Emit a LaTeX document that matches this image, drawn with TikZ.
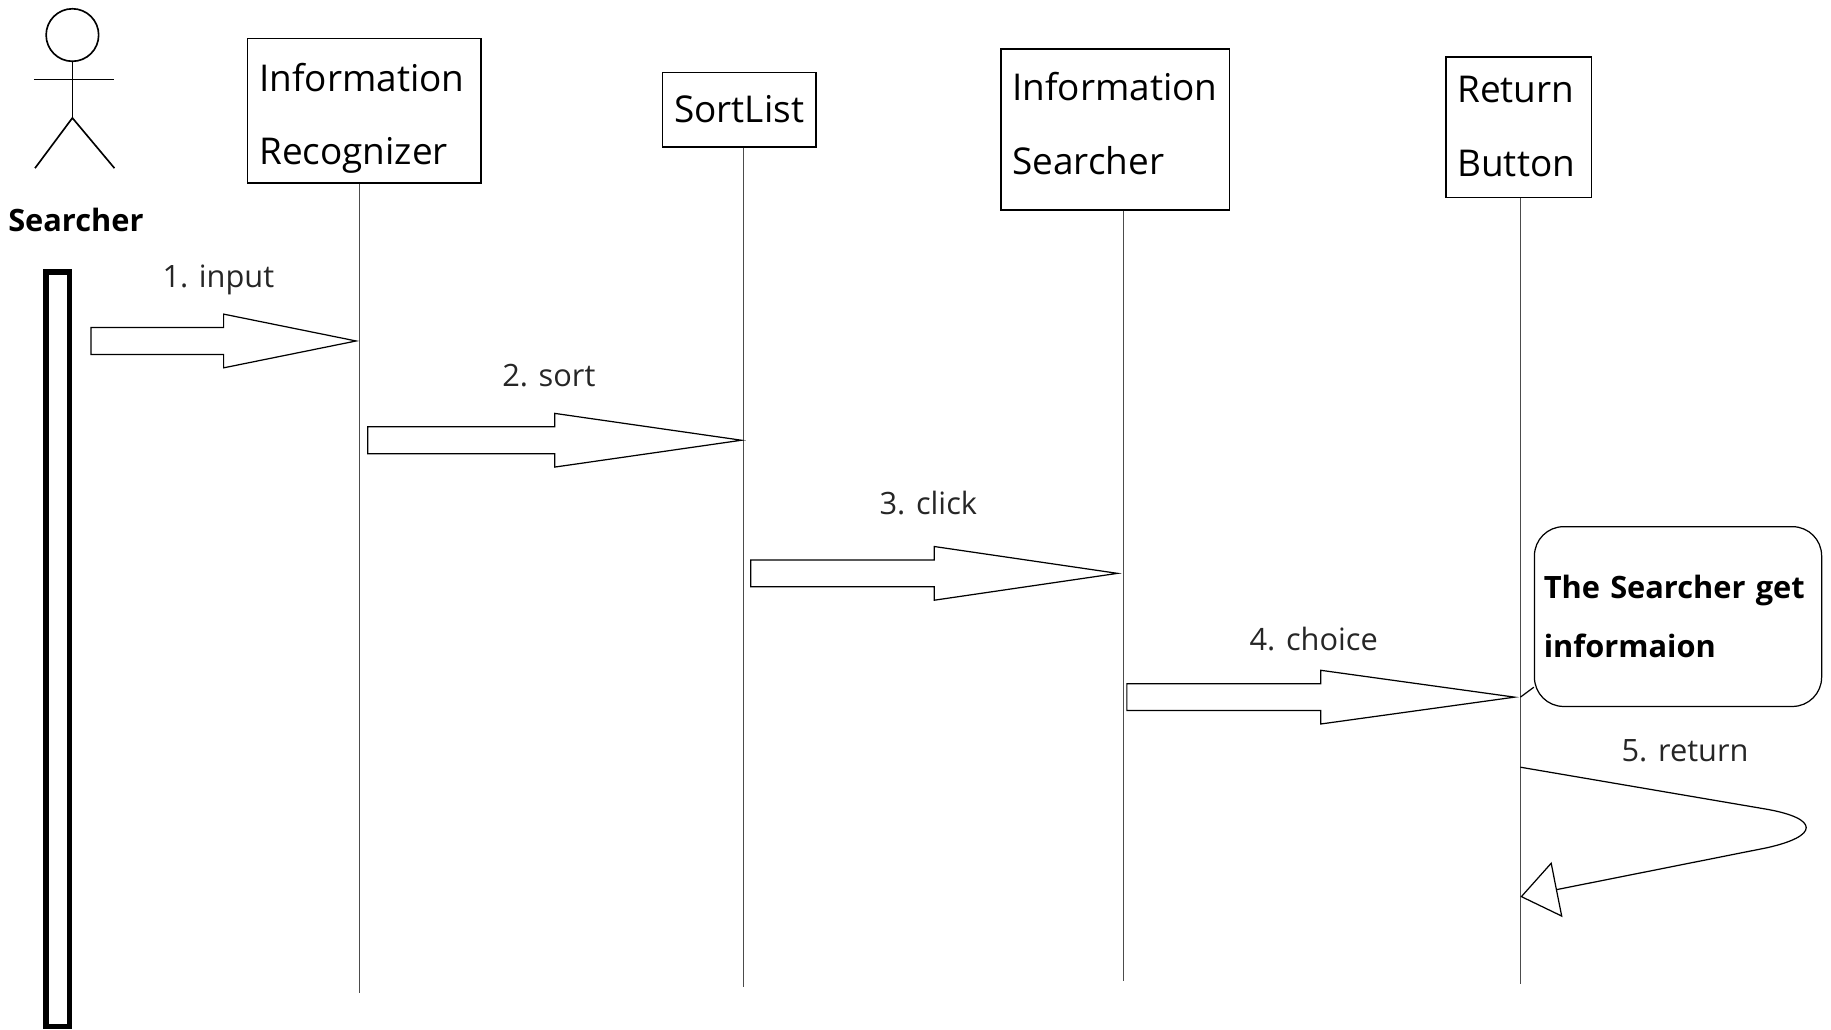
\documentclass[tikz,border=0pt]{standalone}
\usepackage{fontspec}
\setmainfont{Open Sans}
\usetikzlibrary{calc,arrows.meta}

\tikzset{
  object/.style={draw, line width=0.8pt, rectangle, align=left, inner xsep=0.2cm, inner ysep=0pt,
    font=\fontsize{18}{36}\selectfont,
    execute at begin node=\rule{0pt}{16pt}, execute at end node={\rule[-4pt]{0pt}{4pt}}},
  life/.style={line width=0.6pt, black!70},
  msg/.style={line width=0.6pt},
  msglabel/.style={font=\fontsize{15}{18}\selectfont, text=black!85},
  note/.style={draw, line width=0.6pt, rounded corners=0.5cm, align=left, inner xsep=0.16cm,
    font=\bfseries\fontsize{15}{29}\selectfont},
}

% hollow block arrow from #1 to the tip #2
\newcommand{\msgarrow}[2]{%
  \path ($(#1)!0.5!(#2)$) coordinate (mid);
  \draw[msg] ($(#1)+(0,-11.5)$) -- ($(mid)+(0,-11.5)$) -- ($(mid)+(0,-23)$) -- (#2)
    -- ($(mid)+(0,23)$) -- ($(mid)+(0,11.5)$) -- ($(#1)+(0,11.5)$) -- cycle;
}

\begin{document}
\begin{tikzpicture}[x=0.02cm, y=-0.02cm]
  \useasboundingbox (0,0) rectangle (1568,882);

  % actor
  \draw[line width=0.8pt] (62,30) circle[radius=0.45cm];
  \draw[line width=0.8pt] (62,53) -- (62,101);
  \draw[line width=0.8pt] (29,68) -- (98,68);
  \draw[line width=0.8pt] (30,144) -- (62,101) -- (98,144);
  \node[font=\bfseries\fontsize{15}{18}\selectfont] (actor) at (65,188) {Searcher};
  \draw[line width=2.8pt] (39.5,233) rectangle (59.5,879);

  % objects
  \node[object, text width=3.6cm, minimum height=2.48cm,
    execute at begin node={\rule{0pt}{21pt}}] (recog) at (312,95) {Information\\Recognizer};
  \node[object, align=center, minimum width=2.6cm, minimum height=1.28cm] (sort) at (633,94) {SortList};
  \node[object, text width=3.52cm, minimum height=2.76cm,
    execute at end node={\rule[-8pt]{0pt}{8pt}}] (search) at (955,111) {Information\\Searcher};
  \node[object, text width=2.1cm, minimum height=2.4cm] (button) at (1300.5,109) {Return\\Button};

  % lifelines
  \path (308,850) coordinate (recogEnd);
  \path (637,845) coordinate (sortEnd);
  \path (962,840) coordinate (searchEnd);
  \path (1302,843) coordinate (buttonEnd);
  \draw[life] (recog.south -| recogEnd) -- (recogEnd);
  \draw[life] (sort.south -| sortEnd) -- (sortEnd);
  \draw[life] (search.south -| searchEnd) -- (searchEnd);
  \draw[life] (button.south -| buttonEnd) -- (buttonEnd);

  % messages
  \path (78,292) coordinate (inputFrom);
  \path (305,292) coordinate (inputTo);
  \path (315,377) coordinate (sortFrom);
  \path (635,377) coordinate (sortTo);
  \path (643,491) coordinate (clickFrom);
  \path (957,491) coordinate (clickTo);
  \path (965,597) coordinate (choiceFrom);
  \path (1297,597) coordinate (choiceTo);

  \msgarrow{inputFrom}{inputTo}
  \msgarrow{sortFrom}{sortTo}
  \msgarrow{clickFrom}{clickTo}
  \msgarrow{choiceFrom}{choiceTo}

  \node[msglabel] (inputLabel) at (187,240) {1. input};
  \node[msglabel] (sortLabel) at (470,322) {2. sort};
  \node[msglabel] (clickLabel) at (795,431) {3. click};
  \node[msglabel] (choiceLabel) at (1125,547) {4. choice};

  % note
  \node[note, text width=4.6cm, minimum height=3.08cm] (info) at (1437,528) {The Searcher get\\informaion};
  \draw[msg] (choiceTo -| buttonEnd) -- ($(info.south west)+(0,-17)$);

  % self message
  \path (1302,657) coordinate (retFrom);
  \path (1302,768) coordinate (retTo);
  \draw[msg, -{Triangle[open, length=0.64cm, width=0.96cm]}] (retFrom) -- (1513,693)
    .. controls (1558,701) and (1558,716) .. (1513,726) -- (retTo);
  \node[msglabel] (retLabel) at (1443,643) {5. return};

\end{tikzpicture}
\end{document}
